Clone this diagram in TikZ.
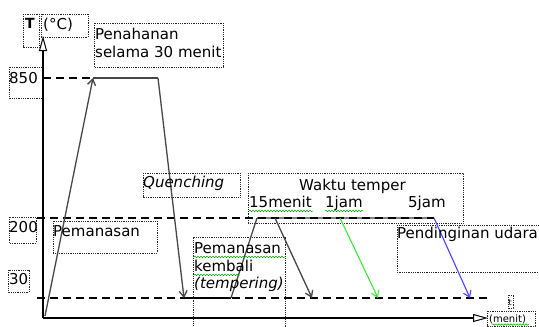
\documentclass[tikz,border=0pt]{standalone}
\usepackage{fontspec}
\setmainfont{DejaVu Sans}
\usetikzlibrary{arrows.meta,decorations.pathmorphing}

\begin{document}
\begin{tikzpicture}[x=1pt,y=-1pt,
  lbl/.style={inner sep=0pt, anchor=base west, font=\fontsize{15}{18}\selectfont},
  small/.style={inner sep=0pt, anchor=base west, font=\fontsize{10}{12}\selectfont},
  frame/.style={densely dotted, line width=0.8pt, black!85},
  axis/.style={line width=1.1pt, -{Triangle[open,length=15pt,width=8pt,line width=1pt]}},
  level/.style={dash pattern=on 8pt off 5pt, line width=1.4pt},
  curve/.style={line width=1.3pt, draw=black!72},
  tip/.style={-{Straight Barb[length=6pt,width=8pt]}},
  squig/.style={green!65!black, line width=0.5pt, decorate,
                decoration={snake, amplitude=0.8pt, segment length=3pt}}
]
\path[use as bounding box] (0,0) rectangle (539,327);
\clip (0,0) rectangle (539,327);

% key points of the temperature profile
\coordinate (origin) at (43,318);
\coordinate (ytop)   at (43,36);
\coordinate (xend)   at (488,318);
\coordinate (start)  at (45,316);
\coordinate (h1)     at (93,78);
\coordinate (h2)     at (158,78);
\coordinate (q)      at (184,298);
\coordinate (t0)     at (231,298);
\coordinate (t1)     at (257,218);
\coordinate (t2)     at (434,218);
\coordinate (l850)   at (43,78);
\coordinate (l200a)  at (37,218);
\coordinate (l30a)   at (37,298);
\coordinate (l30b)   at (488,298);
\coordinate (c1a)    at (275,218);
\coordinate (c1b)    at (312,298);
\coordinate (c2a)    at (340,218);
\coordinate (c2b)    at (378,298);
\coordinate (c3b)    at (470,298);

% text frames
\draw[frame] (23,14) rectangle (39,47);
\draw[frame] (41,14) rectangle (88,37);
\draw[frame] (94,23) rectangle (223,67);
\draw[frame] (9,67) rectangle (42,98);
\draw[frame] (9,217) rectangle (36,243);
\draw[frame] (8,270) rectangle (29,292);
\draw[frame] (53,221) rectangle (157,253);
\draw[frame] (143,173) rectangle (240,197);
\draw[frame] (248,173) rectangle (463,223);
\draw[frame] (397,225) rectangle (545,272);
\draw[frame] (193,340) -- (193,237) -- (285,237) -- (285,340);
\draw[frame] (508,295) rectangle (513,308);
\draw[frame] (487,311) rectangle (535,326);

% axes
\draw[axis] (origin) -- (ytop);
\draw[axis] (origin) -- (xend);

% holding line at tempering temperature
\draw[line width=2pt, gray] (t1) -- (t2);

% reference levels
\draw[level] (l850) -- (h1);
\draw[level] (l200a) -- (t2);
\draw[level] (l30a) -- (l30b);

% heat treatment cycle
\draw[curve,tip] (start) -- (h1);
\draw[curve] (h1) -- (h2);
\draw[curve,tip] (h2) -- (q);
\draw[line width=2pt] (q) -- (t0);
\draw[curve] (t0) -- (t1);

% cooling after tempering
\draw[curve,tip] (c1a) -- (c1b);
\draw[line width=1.1pt, draw={rgb,255:red,60;green,230;blue,60}, tip] (c2a) -- (c2b);
\draw[line width=1.1pt, draw={rgb,255:red,70;green,70;blue,255}, tip] (t2) -- (c3b);

% labels
\node[inner sep=0pt, anchor=base west, font=\fontsize{14}{16}\selectfont\bfseries] (tlab) at (25,28) {T};
\node[lbl] (unit) at (43,29) {(°C)};
\node[lbl] (hold1) at (95,39) {Penahanan};
\node[lbl] (hold2) at (95,57) {selama 30 menit};
\node[lbl] (v850) at (9,83) {850};
\node[lbl] (v200) at (9,232) {200};
\node[lbl] (v30) at (9,284) {30};
\node[lbl] (heat) at (53,236) {Pemanasan};
\node[lbl, font=\fontsize{15}{18}\selectfont\itshape] (quench) at (143,187) {Quenching};
\node[lbl] (rh1) at (194,253) {Pemanasan};
\node[lbl] (rh2) at (194,271) {kembali};
\node[lbl, font=\fontsize{15}{18}\selectfont\itshape] (rh3) at (194,288) {(tempering)};
\node[lbl] (wt) at (299,190) {Waktu temper};
\node[lbl] (w15) at (249,207) {15menit};
\node[lbl] (w1) at (325,207) {1jam};
\node[lbl] (w5) at (408,207) {5jam};
\node[lbl] (cool) at (397,238) {Pendinginan udara};
\node[inner sep=0pt, anchor=base west, font=\fontsize{8}{9}\selectfont] (tt) at (508.5,305) {t};
\node[small] (tunit) at (489,322) {(menit)};

% spelling marks under words
\draw[squig] (249,211) -- (313,211);
\draw[squig] (325,211) -- (363,211);
\draw[squig] (194,257) -- (285,257);
\draw[squig] (194,275) -- (240,275);
\draw[squig] (492,324.5) -- (529,324.5);
\end{tikzpicture}
\end{document}
